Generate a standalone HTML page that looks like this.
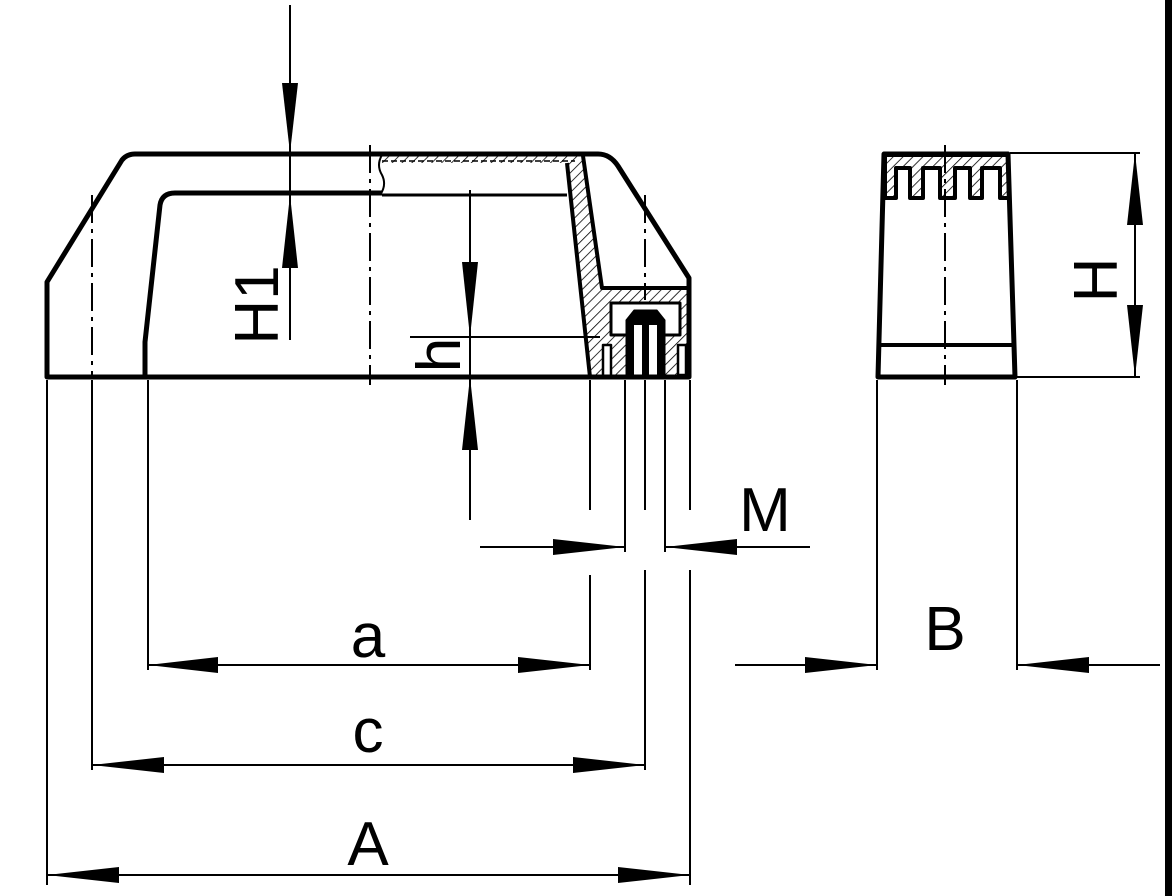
<!DOCTYPE html>
<html><head><style>html,body{margin:0;padding:0;background:#fff}svg{display:block}</style></head>
<body>
<svg width="1172" height="896" viewBox="0 0 1172 896" xmlns="http://www.w3.org/2000/svg">
<defs>
<pattern id="h" width="7" height="7" patternUnits="userSpaceOnUse" patternTransform="rotate(45)">
<rect width="7" height="7" fill="#fff"/><line x1="0" y1="0" x2="0" y2="7" stroke="#000" stroke-width="1.6"/></pattern>
</defs>
<g fill="none" stroke="#000" stroke-linejoin="round">
<!-- hatched section -->
<path d="M382,156 L583,156 L602,288 L688,288 L688,377 L590,377 L567,163 L382,163 Z" fill="url(#h)" stroke="none"/>
<rect x="611" y="303" width="69" height="32" fill="#fff" stroke="#000" stroke-width="3"/>
<rect x="603" y="345" width="8" height="32" fill="#fff" stroke="#000" stroke-width="2.5"/>
<rect x="678" y="345" width="8" height="30" fill="#fff" stroke="#000" stroke-width="2.5"/>
<path d="M626,377 L626,320 L634,310 L657,310 L665,320 L665,377 Z" fill="#000"/>
<rect x="634" y="325" width="8" height="52" fill="#fff" stroke="none"/>
<rect x="649" y="325" width="8" height="52" fill="#fff" stroke="none"/>
<!-- main outline -->
<path d="M47,377 L47,282 L122,160 Q127,154 135,154 L598,154 Q610,154 618,166 L689,278 L689,377 Z" stroke-width="5"/>
<path d="M145,377 L145,342 L160,205 Q162,193 175,193 L382,193" stroke-width="5"/>
<line x1="382" y1="195" x2="567" y2="195" stroke-width="3"/>
<path d="M382,161 L575,161" stroke-width="1.5" stroke-dasharray="6,3"/>
<path d="M382,155 q-6,10 0,20 q5,10 -2,20" stroke-width="2"/>
<path d="M567,163 L590,377" stroke-width="4"/>
<path d="M583,156 L602,288 L689,288" stroke-width="4"/>
<line x1="590" y1="377" x2="689" y2="377" stroke-width="4"/>
<!-- side view -->
<path d="M885,155 L1008,155 L1009,198 L1000,198 L1000,168 L982,168 L982,198 L970,198 L970,168 L955,168 L955,198 L940,198 L940,168 L923,168 L923,198 L910,198 L910,168 L896,168 L896,198 L885,198Z" fill="url(#h)" stroke-width="4"/>
<path d="M884,154 L1008,154 L1015,377 L878,377 Z" stroke-width="5"/>
<line x1="878" y1="345" x2="1015" y2="345" stroke-width="4"/>
<!-- centerlines -->
<g stroke-width="2" stroke-dasharray="28,6,4,6">
<line x1="92" y1="195" x2="92" y2="377"/>
<line x1="370" y1="145" x2="370" y2="385"/>
<line x1="645" y1="195" x2="645" y2="300"/>
<line x1="945" y1="145" x2="945" y2="385"/>
</g>
<!-- thin lines -->
<g stroke-width="2">
<line x1="290" y1="5" x2="290" y2="340"/>
<line x1="470" y1="190" x2="470" y2="520"/>
<line x1="410" y1="337" x2="600" y2="337"/>
<line x1="410" y1="377" x2="590" y2="377"/>
<line x1="47" y1="380" x2="47" y2="885"/>
<line x1="92" y1="380" x2="92" y2="770"/>
<line x1="148" y1="380" x2="148" y2="670"/>
<line x1="590" y1="380" x2="590" y2="510"/>
<line x1="590" y1="575" x2="590" y2="670"/>
<line x1="625" y1="380" x2="625" y2="552"/>
<line x1="645" y1="380" x2="645" y2="510"/>
<line x1="645" y1="570" x2="645" y2="770"/>
<line x1="665" y1="380" x2="665" y2="552"/>
<line x1="690" y1="380" x2="690" y2="510"/>
<line x1="690" y1="570" x2="690" y2="885"/>
<line x1="480" y1="547" x2="625" y2="547"/>
<line x1="665" y1="547" x2="810" y2="547"/>
<line x1="148" y1="665" x2="590" y2="665"/>
<line x1="92" y1="765" x2="645" y2="765"/>
<line x1="47" y1="875" x2="690" y2="875"/>
<line x1="1010" y1="153" x2="1140" y2="153"/>
<line x1="1017" y1="377" x2="1140" y2="377"/>
<line x1="1135" y1="153" x2="1135" y2="377"/>
<line x1="877" y1="380" x2="877" y2="670"/>
<line x1="1017" y1="380" x2="1017" y2="670"/>
<line x1="735" y1="665" x2="877" y2="665"/>
<line x1="1017" y1="665" x2="1160" y2="665"/>
</g>
</g>
<g fill="#000">
<polygon points="290,153 282,83 298,83"/>
<polygon points="290,195 282,268 298,268"/>
<polygon points="470,337 462,262 478,262"/>
<polygon points="470,377 462,450 478,450"/>
<polygon points="625,547 553,539 553,555"/>
<polygon points="665,547 737,539 737,555"/>
<polygon points="148,665 218,657 218,673"/>
<polygon points="590,665 518,657 518,673"/>
<polygon points="92,765 164,757 164,773"/>
<polygon points="645,765 573,757 573,773"/>
<polygon points="47,875 119,867 119,883"/>
<polygon points="690,875 618,867 618,883"/>
<polygon points="1135,153 1127,225 1143,225"/>
<polygon points="1135,377 1127,305 1143,305"/>
<polygon points="877,665 805,657 805,673"/>
<polygon points="1017,665 1089,657 1089,673"/>
</g>
<g font-family="Liberation Sans, sans-serif" font-size="62" fill="#000" text-anchor="middle">
<text x="368" y="657">a</text>
<text x="368" y="752">c</text>
<text x="368" y="865">A</text>
<text x="765" y="531">M</text>
<text x="945" y="650">B</text>
<text transform="translate(278,305) rotate(-90)">H1</text>
<text transform="translate(460,355) rotate(-90)">h</text>
<text transform="translate(1117,280) rotate(-90)">H</text>
</g>
<rect x="1165" y="0" width="7" height="896" fill="#000"/>
</svg>
</body></html>
